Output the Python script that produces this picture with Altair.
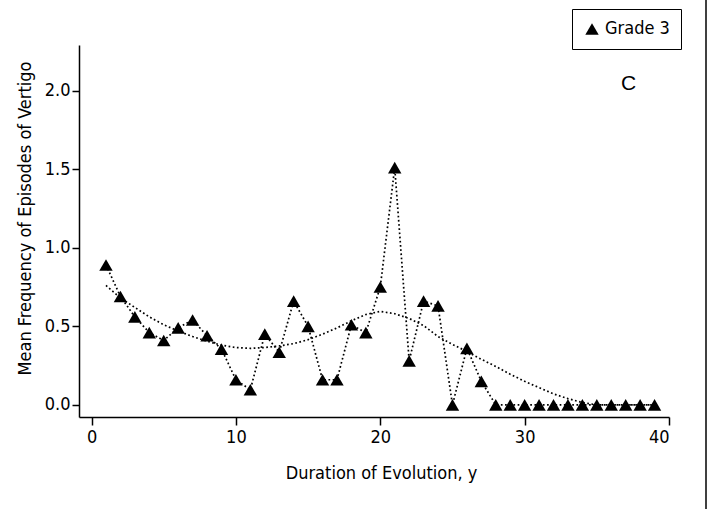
import altair as alt
import pandas as pd

# Observed mean frequency (Grade 3)
duration = list(range(1, 40))
mean_freq = [0.89, 0.69, 0.56, 0.46, 0.41, 0.49, 0.54, 0.44, 0.355, 0.16,
             0.096, 0.45, 0.335, 0.66, 0.50, 0.16, 0.16, 0.51, 0.46, 0.75,
             1.51, 0.28, 0.66, 0.63, 0.0, 0.36, 0.15, 0.0, 0.0, 0.0,
             0.0, 0.0, 0.0, 0.0, 0.0, 0.0, 0.0, 0.0, 0.0]
# Smoothed fit
smooth = [0.76, 0.68, 0.62, 0.56, 0.51, 0.47, 0.435, 0.405, 0.38, 0.365,
          0.36, 0.365, 0.375, 0.39, 0.415, 0.45, 0.49, 0.535, 0.575, 0.595,
          0.58, 0.55, 0.505, 0.435, 0.385, 0.34, 0.29, 0.245, 0.195, 0.15,
          0.11, 0.07, 0.04, 0.015, 0.0, 0.0, 0.0, 0.0, 0.0]

x_ticks = [0, 10, 20, 30, 40]
y_ticks = [0.0, 0.5, 1.0, 1.5, 2.0]
series_name = "Grade 3"
panel_label = "C"

df = pd.DataFrame({"x": duration, "y": mean_freq, "s": smooth,
                   "series": [series_name] * len(duration)})
lab = pd.DataFrame({"x": [37.2], "y": [2.04], "t": [panel_label]})

FONT = "'DejaVu Sans Condensed', 'Roboto Condensed', Roboto, sans-serif"

xs = alt.Scale(domain=[-0.87, 40], nice=False, zero=False)
ys = alt.Scale(domain=[-0.077, 2.29], nice=False, zero=False)

xax = alt.Axis(values=x_ticks, format="d", title="Duration of Evolution, y",
               tickSize=8, labelPadding=3, titlePadding=18, titleX=302)
yax = alt.Axis(values=y_ticks, format=".1f",
               title="Mean Frequency of Episodes of Vertigo",
               tickSize=7, labelPadding=2, titlePadding=10, titleY=173)

base = alt.Chart(df)

fit = base.mark_line(color="black", strokeWidth=1.7, strokeDash=[1.7, 2.5]).encode(
    x=alt.X("x:Q", scale=xs, axis=xax),
    y=alt.Y("s:Q", scale=ys, axis=yax),
)
conn = base.mark_line(color="black", strokeWidth=1.7, strokeDash=[1.7, 2.5]).encode(
    x=alt.X("x:Q", scale=xs),
    y=alt.Y("y:Q", scale=ys),
)
pts = base.mark_point(shape="triangle-up", filled=True, size=180, opacity=1).encode(
    x=alt.X("x:Q", scale=xs),
    y=alt.Y("y:Q", scale=ys),
    color=alt.Color("series:N", scale=alt.Scale(range=["black"]),
                    legend=alt.Legend(title=None, orient="none",
                                      legendX=493, legendY=-36,
                                      symbolType="triangle-up", symbolSize=180,
                                      labelFontSize=18, labelFont=FONT,
                                      labelColor="black",
                                      strokeColor="black", fillColor="white",
                                      padding=11)),
)
txt = alt.Chart(lab).mark_text(font="Liberation Sans", fontSize=21, color="black").encode(
    x=alt.X("x:Q", scale=xs),
    y=alt.Y("y:Q", scale=ys),
    text="t:N",
)
border = alt.Chart(lab).mark_rule(color="black", strokeWidth=1.5).encode(
    x=alt.value(627), y=alt.value(-45), y2=alt.value(464)
)

chart = alt.layer(fit, conn, pts, txt, border).properties(
    width=590, height=372,
    autosize=alt.AutoSizeParams(type="none"),
    padding={"left": 79, "top": 45, "right": 40, "bottom": 92},
    background="white",
).configure_view(stroke=None).configure_axis(
    grid=False, domainColor="black", domainWidth=1.5, tickColor="black",
    tickWidth=1.5, labelColor="black", titleColor="black",
    labelFont=FONT, titleFont=FONT, labelFontSize=18, titleFontSize=18,
    titleFontWeight="normal",
)

chart.save("out.html", embed_options={"renderer": "svg", "actions": False})
